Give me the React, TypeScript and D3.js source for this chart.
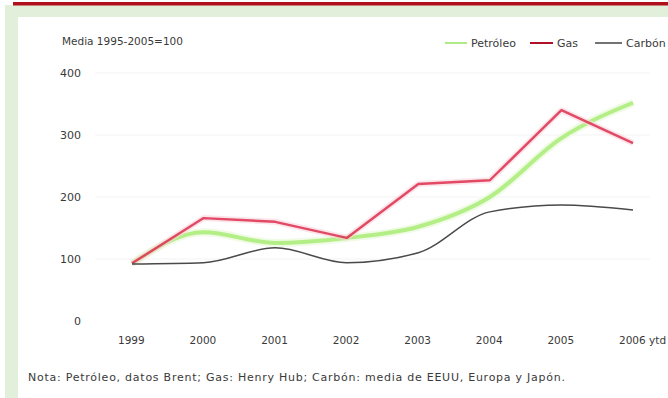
import React from "react";
import * as d3 from "d3";

const years = ["1999", "2000", "2001", "2002", "2003", "2004", "2005", "2006"];
const yearLabels = ["1999", "2000", "2001", "2002", "2003", "2004", "2005", "2006 ytd"];
const petroleo = [93, 143, 126, 134, 152, 200, 295, 352];
const gas = [93, 166, 160, 134, 221, 227, 340, 287];
const carbon = [92, 94, 118, 94, 110, 176, 187, 179];
const yTicks = [0, 100, 200, 300, 400];
const legendNames = ["Petróleo", "Gas", "Carbón"];
const titleText = "Media 1995-2005=100";
const noteText = "Nota: Petróleo, datos Brent; Gas: Henry Hub; Carbón: media de EEUU, Europa y Japón.";

const W = 668;
const H = 398;
const FONT = "'DejaVu Sans', Verdana, sans-serif";

export default function App() {
  const x = d3.scalePoint<string>().domain(years).range([132, 633]);
  const y = d3.scaleLinear().domain([0, 400]).range([321, 73]);

  const lineSmooth = d3
    .line<number>()
    .x((_, i) => x(years[i]) as number)
    .y((d) => y(d))
    .curve(d3.curveMonotoneX);
  const lineStraight = d3
    .line<number>()
    .x((_, i) => x(years[i]) as number)
    .y((d) => y(d));

  const legend = [
    { name: legendNames[0], color: "#a8e878", w: 1.8, x1: 445, x2: 467 },
    { name: legendNames[1], color: "#b0102c", w: 2, x1: 530, x2: 553 },
    { name: legendNames[2], color: "#444", w: 1.5, x1: 595, x2: 622 },
  ];

  return (
    <div style={{ position: "fixed", left: 0, top: 0, width: W, height: H }}>
      <svg width={W} height={H} style={{ display: "block" }}>
        <rect x={0} y={0} width={W} height={H} fill="#fff" />
        <rect x={5} y={5} width={W - 5} height={H - 5} fill="#e1efdb" />
        <rect x={18} y={17} width={W - 18} height={H - 17} fill="#fff" />
        <rect x={13} y={2} width={W - 13} height={3.5} fill="#b0101c" />

        {yTicks.slice(1).map((t) => (
          <line key={t} x1={95} x2={650} y1={y(t)} y2={y(t)} stroke="#f3f3f3" strokeWidth={1} />
        ))}

        <g fontFamily={FONT} fill="#3a3a3a">
          <text x={62} y={45} fontSize={10.5}>{titleText}</text>
          {yTicks.map((t) => (
            <text key={t} x={81} y={y(t)} dy="0.35em" textAnchor="end" fontSize={11}>
              {t}
            </text>
          ))}
          {yearLabels.map((l, i) => (
            <text key={l} x={(x(years[i]) as number) - 14} y={344} fontSize={10.5}>
              {l}
            </text>
          ))}
          {legend.map((l) => (
            <g key={l.name}>
              <line x1={l.x1} x2={l.x2} y1={43} y2={43} stroke={l.color} strokeWidth={l.w} />
              <text x={l.x2 + 4} y={43} dy="0.35em" fontSize={11}>
                {l.name}
              </text>
            </g>
          ))}
          <text x={28} y={381} fontSize={11} textLength={537} lengthAdjust="spacing">
            {noteText}
          </text>
        </g>

        <path d={lineSmooth(petroleo) || ""} fill="none" stroke="#effbe4" strokeWidth={8} strokeLinejoin="round" />
        <path d={lineSmooth(petroleo) || ""} fill="none" stroke="#b4ee86" strokeWidth={4} strokeLinejoin="round" />
        <path d={lineStraight(gas) || ""} fill="none" stroke="#fad4dc" strokeWidth={6} strokeOpacity={0.6} strokeLinejoin="round" />
        <path d={lineStraight(gas) || ""} fill="none" stroke="#da2242" strokeWidth={2.4} strokeOpacity={0.8} strokeLinejoin="round" />
        <path d={lineSmooth(carbon) || ""} fill="none" stroke="#4a4a4a" strokeWidth={1.5} strokeLinejoin="round" />
      </svg>
    </div>
  );
}
